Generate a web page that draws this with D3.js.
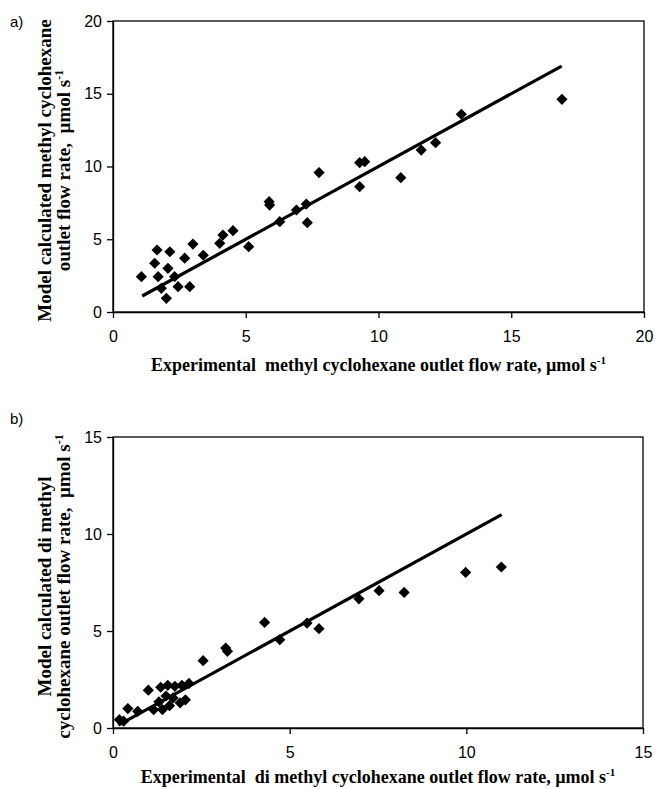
<!DOCTYPE html>
<html><head><meta charset="utf-8">
<script src="https://cdn.jsdelivr.net/npm/d3@7"></script>
<style>body{margin:0;background:#fff;} svg{display:block;} text{white-space:pre;}</style>
</head><body>
<svg id="c" width="655" height="789"></svg>
<script>
// Panel a) methyl cyclohexane
const expA = [1.07,1.66,2.14,3.01,2.7,3.4,1.57,2.07,1.70,2.32,2.45,1.82,2.89,2.01,
  4.02,4.14,4.52,5.11,5.88,5.90,6.28,6.91,7.28,7.32,7.76,9.29,9.48,9.29,10.84,11.61,12.15,13.12,16.91];
const modA = [2.43,4.26,4.14,4.67,3.7,3.9,3.35,3.0,2.43,2.43,1.74,1.63,1.74,0.94,
  4.72,5.29,5.59,4.49,7.58,7.35,6.21,7.01,7.42,6.14,9.58,10.26,10.33,8.61,9.23,11.13,11.64,13.59,14.62];
const lineA = [1.1, 16.9];
const ticksA = [0,5,10,15,20];

// Panel b) di methyl cyclohexane
const expB = [0.18,0.30,0.42,0.70,1.00,1.15,1.40,1.30,1.35,1.50,1.55,1.70,1.75,1.90,1.95,2.05,2.15,1.60,
  2.55,3.19,3.24,4.29,4.72,5.49,5.83,6.96,7.53,8.24,9.98,10.99];
const modB = [0.43,0.35,1.00,0.86,1.95,0.94,0.95,1.35,2.10,1.65,2.20,1.55,2.15,1.30,2.20,1.45,2.30,1.15,
  3.47,4.12,3.95,5.44,4.55,5.41,5.12,6.66,7.08,6.99,8.02,8.30];
const lineB = [0.15, 11.0];
const ticksB = [0,5,10,15];

const svg = d3.select("#c");
const serif = "'Liberation Serif','Times New Roman',serif";
const sans = "'Liberation Sans',Arial,sans-serif";

function panel(cfg){
  const {x0,x1,y0,y1,max,ticks,xs,ys,line,tag,tagY,ylab1,ylab2,xlab,xlabY} = cfg;
  const x = d3.scaleLinear().domain([0,max]).range([x0,x1]);
  const y = d3.scaleLinear().domain([0,max]).range([y1,y0]);
  const g = svg.append("g");
  g.append("rect").attr("x",x0).attr("y",y0).attr("width",x1-x0).attr("height",y1-y0)
    .attr("fill","none").attr("stroke","#000").attr("stroke-width",1.3);
  const xa = g.append("g").attr("transform",`translate(0,${y1})`)
    .call(d3.axisBottom(x).tickValues(ticks).tickSize(6).tickPadding(13).tickSizeOuter(0));
  const ya = g.append("g").attr("transform",`translate(${x0},0)`)
    .call(d3.axisLeft(y).tickValues(ticks).tickSize(6).tickPadding(5).tickSizeOuter(0));
  [xa,ya].forEach(a=>{
    a.select(".domain").attr("stroke-width",1.3);
    a.selectAll(".tick line").attr("stroke-width",1.3);
    a.selectAll("text").attr("font-family",sans).attr("font-size",16).attr("fill","#000");
  });
  g.append("line").attr("x1",x(line[0])).attr("y1",y(line[0]))
    .attr("x2",x(line[1])).attr("y2",y(line[1]))
    .attr("stroke","#000").attr("stroke-width",3.2);
  const r = 5.6;
  g.selectAll("path.pt").data(xs.map((v,i)=>[v,ys[i]])).join("path").attr("class","pt")
    .attr("d",`M0,${-r}L${r},0L0,${r}L${-r},0Z`)
    .attr("transform",d=>`translate(${x(d[0])},${y(d[1])})`)
    .attr("fill","#000");
  svg.append("text").attr("x",10).attr("y",tagY).attr("font-family",sans).attr("font-size",15).text(tag);
  const cy = (y0+y1)/2 + 4;
  svg.append("text").attr("transform",`translate(51,${cy}) rotate(-90)`).attr("text-anchor","middle")
    .attr("font-family",serif).attr("font-weight","bold").attr("font-size",19).text(ylab1);
  const t2 = svg.append("text").attr("transform",`translate(70,${cy}) rotate(-90)`).attr("text-anchor","middle")
    .attr("font-family",serif).attr("font-weight","bold").attr("font-size",19);
  t2.append("tspan").text(ylab2);
  t2.append("tspan").attr("font-size",12).attr("dy",-7).text("-1");
  const t3 = svg.append("text").attr("x",(x0+x1)/2).attr("y",xlabY).attr("text-anchor","middle")
    .attr("font-family",serif).attr("font-weight","bold").attr("font-size",18);
  t3.append("tspan").text(xlab);
  t3.append("tspan").attr("font-size",11).attr("dy",-7).text("-1");
}

panel({x0:113,x1:644,y0:21,y1:312,max:20,ticks:ticksA,xs:expA,ys:modA,line:lineA,
  tag:"a)",tagY:27,ylab1:"Model calculated methyl cyclohexane",ylab2:"outlet flow rate,  \u00b5mol s",
  xlab:"Experimental  methyl cyclohexane outlet flow rate, \u00b5mol s",xlabY:371});
panel({x0:113,x1:643,y0:437,y1:728,max:15,ticks:ticksB,xs:expB,ys:modB,line:lineB,
  tag:"b)",tagY:424,ylab1:"Model calculated di methyl",ylab2:"cyclohexane outlet flow rate,  \u00b5mol s",
  xlab:"Experimental  di methyl cyclohexane outlet flow rate, \u00b5mol s",xlabY:783});
</script>
</body></html>
